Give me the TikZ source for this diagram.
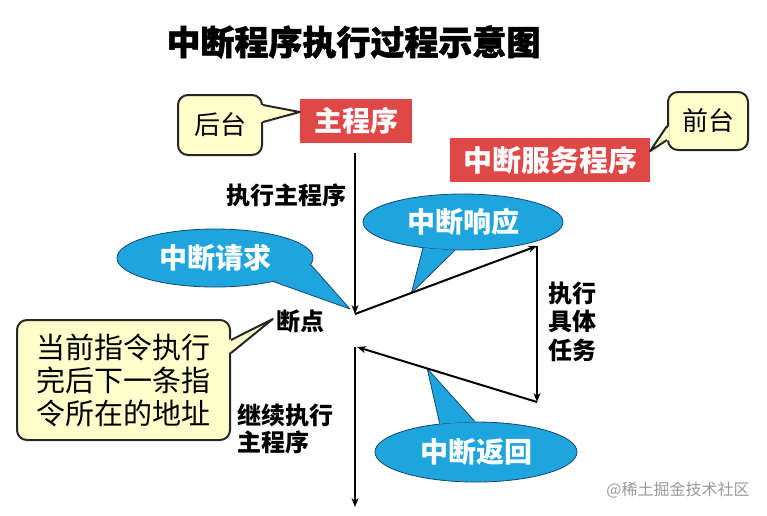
\documentclass[tikz,border=0pt]{standalone}
\usepackage{fontspec}
\setmainfont{Noto Sans CJK SC}
\usetikzlibrary{arrows.meta,shapes.geometric,calc}
\definecolor{boxred}{RGB}{224,72,72}
\definecolor{ellblue}{RGB}{30,165,222}
\definecolor{ellline}{RGB}{25,70,110}
\definecolor{notey}{RGB}{255,255,204}
\begin{document}
\begin{tikzpicture}[x=1pt,y=-1pt,
  redbox/.style={fill=boxred, text=white, font=\fontsize{28}{30}\selectfont\bfseries, inner sep=0pt, minimum height=44pt},
  bubble/.style={ellipse, fill=ellblue, draw=ellline, line width=0.8pt, inner sep=0pt, text=white, font=\fontsize{28}{30}\selectfont\bfseries},
  note/.style={rounded corners=10pt, fill=notey, draw=black!85, line width=2pt, inner sep=0pt},
  lbl/.style={font=\fontsize{24}{27}\selectfont\bfseries, inner sep=0pt, align=center},
  flow/.style={line width=2pt, -{Stealth[length=9pt,width=7pt]}},
  tailedge/.style={draw=ellline, line width=0.8pt, line join=round},
  noteedge/.style={draw=black!85, line width=2pt, line join=round},
]
\fill[white] (0,0) rectangle (767,515);
\useasboundingbox (0,0) rectangle (767,515);

% title
\node[font=\fontsize{34}{36}\selectfont\bfseries\addfontfeatures{FakeBold=1.5}, inner sep=0pt] (title) at (353.5,42) {中断程序执行过程示意图};

% red boxes
\node[redbox, minimum width=112pt] (zc) at (356,121) {主程序};
\node[redbox, minimum width=200pt, font=\fontsize{29}{31}\selectfont\bfseries] (zf) at (550,160) {中断服务程序};

% callout 后台
\node[note, minimum width=84pt, minimum height=60pt, font=\fontsize{26}{28}\selectfont] (ht) at (220,125) {后台};
\coordinate (httip) at ([yshift=9pt]zc.west);
\fill[notey] ($(ht.east)+(-2,-20)$) -- (httip) -- ($(ht.east)+(-2,-3)$) -- cycle;
\draw[noteedge] ($(ht.east)+(0,-20)$) -- (httip) -- ($(ht.east)+(0,-3)$);

% callout 前台
\node[note, minimum width=80pt, minimum height=58pt, font=\fontsize{26}{28}\selectfont] (qt) at (708,121) {前台};
\coordinate (qttip) at ([yshift=9pt]zf.east);
\fill[notey] ($(qt.west)+(2,5)$) -- (qttip) -- ($(qt.west)+(2,19)$) -- cycle;
\draw[noteedge] ($(qt.west)+(0,5)$) -- (qttip) -- ($(qt.west)+(0,19)$);

% labels
\node[lbl] (l1) at (286,195) {执行主程序};
\node[lbl] (dd) at (300,321) {断点};
\node[lbl, font=\fontsize{24}{28.5}\selectfont\bfseries] (l2) at (572,321.5) {执行\\具体\\任务};
\node[lbl, align=left, anchor=west] (l3) at (237,428.5) {继续执行\\主程序};

% address callout
\node[note, minimum width=213pt, minimum height=120pt, font=\fontsize{29}{33}\selectfont, align=left] (addr) at (123.5,380) {当前指令执行\\完后下一条指\\令所在的地址};
\coordinate (addrtip) at ([xshift=-3pt,yshift=2pt]dd.west);
\fill[notey] ($(addr.east)+(-2,-40)$) -- (addrtip) -- ($(addr.east)+(-2,-27)$) -- cycle;
\draw[noteedge] ($(addr.east)+(0,-40)$) -- (addrtip) -- ($(addr.east)+(0,-27)$);

% flow coordinates
\coordinate (top) at (355,153);
\coordinate (bp) at (355,314);
\coordinate (r1) at (537,246);
\coordinate (r2) at (537,402);
\coordinate (bp2) at (357,347);
\coordinate (resume) at (355,347);
\coordinate (end) at (355,507);

% bubbles
\node[bubble, minimum width=200pt, minimum height=56pt] (xy) at (463,222) {中断响应};
\node[bubble, minimum width=196pt, minimum height=58pt] (qq) at (215,258) {中断请求};
\node[bubble, minimum width=202pt, minimum height=60pt] (fh) at (476,452) {中断返回};

\coordinate (qqtip) at ($(bp)+(-5,-5)$);
\coordinate (xytip) at ($(bp)!0.31!(r1)$);
\coordinate (fhtip) at ($(r2)!0.61!(bp2)$);

\fill[ellblue] (qq.338) -- (qqtip) -- (qq.356) -- cycle;
\draw[tailedge] (qq.338) -- (qqtip) -- (qq.356);
\fill[ellblue] (xy.213) -- (xytip) -- (xy.254) -- cycle;
\draw[tailedge] (xy.213) -- (xytip) -- (xy.254);
\fill[ellblue] (fh.142) -- (fhtip) -- (fh.92) -- cycle;
\draw[tailedge] (fh.142) -- (fhtip) -- (fh.92);

% flow arrows
\draw[flow] (top) -- (bp);
\draw[flow] (bp) -- (r1);
\draw[flow] (r1) -- (r2);
\draw[flow] (r2) -- (bp2);
\draw[flow] (resume) -- (end);

% watermark
\node[font=\fontsize{16}{18}\selectfont, text=black!40, inner sep=0pt] (wm) at (678,490) {@稀土掘金技术社区};
\end{tikzpicture}
\end{document}
